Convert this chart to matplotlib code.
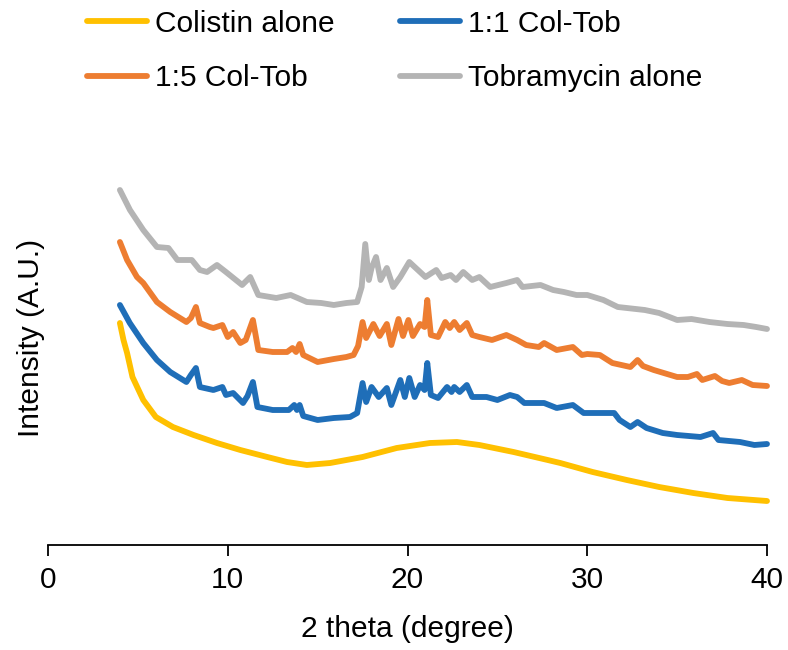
import matplotlib
matplotlib.use("Agg")
import matplotlib.pyplot as plt

plt.rcParams['font.family'] = ['Liberation Sans', 'DejaVu Sans']

# ---- data (2 theta in degrees, intensity in arbitrary units) ----
x_col = [4.0, 4.2, 4.4, 4.7, 5.3, 6.0, 6.95, 8.1, 9.4, 10.7, 12.2, 13.3, 14.4, 15.7,
         17.5, 19.4, 21.25, 22.75, 24.0, 25.9, 27.8, 28.5, 30.3, 32.2, 34.0, 35.9, 37.8, 40.0]
y_col = [222, 205, 192, 168, 145, 128, 118, 110, 102, 95, 88, 83, 80, 82,
         88, 97, 102, 103, 100, 93, 85, 82, 73, 65, 58, 52, 47, 44]

x_11 = [4.0, 4.55, 5.3, 6.06, 6.8, 7.7, 7.95, 8.23, 8.45, 9.2, 9.7, 9.9, 10.3, 10.85, 11.1,
        11.4, 11.65, 12.5, 13.4, 13.7, 13.85, 14.0, 14.2, 15.0, 15.9, 16.8, 17.2, 17.5,
        17.7, 18.0, 18.4, 18.85, 19.1, 19.6, 19.85, 20.1, 20.4, 20.7, 20.95, 21.1, 21.3,
        21.7, 22.2, 22.45, 22.6, 22.9, 23.3, 23.6, 24.4, 25.0, 25.7, 26.1, 26.5, 27.6,
        28.3, 29.2, 29.8, 30.6, 31.5, 31.8, 32.4, 32.8, 33.3, 34.2, 35.0, 36.3, 37.0,
        37.3, 38.5, 39.3, 40.0]
y_11 = [240, 222, 202, 185, 173, 163, 170, 177, 158, 155, 158, 150, 152, 142, 149,
        163, 138, 135, 135, 140, 135, 140, 129, 125, 127, 128, 132, 162,
        143, 158, 148, 157, 140, 165, 148, 167, 148, 160, 155, 182, 150,
        147, 158, 153, 158, 153, 160, 148, 148, 145, 150, 148, 142, 142,
        137, 140, 132, 132, 132, 125, 118, 123, 117, 112, 110, 108, 112,
        105, 103, 100, 101]

x_15 = [4.0, 4.4, 4.95, 5.3, 6.06, 6.8, 7.7, 7.95, 8.23, 8.45, 9.0, 9.2, 9.7, 10.0, 10.3,
        10.7, 11.0, 11.4, 11.7, 12.5, 13.3, 13.6, 13.8, 14.0, 14.2, 15.0, 15.9, 16.6,
        17.0, 17.25, 17.5, 17.7, 18.1, 18.45, 18.85, 19.1, 19.5, 19.75, 20.05, 20.3,
        20.7, 20.95, 21.1, 21.3, 21.7, 22.1, 22.35, 22.6, 22.9, 23.3, 23.6, 24.0, 24.7,
        25.5, 26.1, 26.6, 27.3, 27.6, 28.3, 29.2, 29.7, 30.0, 30.7, 31.4, 32.4, 32.8,
        33.1, 33.7, 35.0, 35.6, 36.1, 36.4, 37.1, 37.5, 37.9, 38.6, 39.2, 40.0]
y_15 = [303, 285, 268, 262, 243, 233, 223, 227, 238, 222, 218, 217, 220, 208, 213,
        202, 205, 225, 195, 193, 193, 197, 193, 201, 190, 183, 186, 188,
        190, 199, 223, 207, 221, 209, 221, 200, 226, 209, 225, 209,
        221, 218, 245, 210, 208, 223, 217, 223, 215, 222, 210, 208, 205,
        210, 205, 200, 198, 202, 195, 198, 190, 191, 190, 182, 178, 185,
        179, 175, 168, 168, 171, 165, 169, 164, 162, 165, 160, 159]

x_tob = [4.0, 4.56, 5.3, 6.06, 6.7, 7.2, 8.0, 8.45, 8.85, 9.4, 9.9, 10.8, 11.25, 11.7,
         12.7, 13.5, 14.4, 15.2, 15.9, 16.6, 17.2, 17.45, 17.65, 17.85, 18.0, 18.25, 18.5,
         18.85, 19.2, 19.6, 20.1, 20.7, 21.0, 21.6, 21.9, 22.4, 22.7, 23.1, 23.6, 24.0,
         24.6, 25.5, 26.1, 26.4, 27.4, 28.1, 28.7, 29.4, 30.0, 30.9, 31.7, 32.2, 33.2,
         34.0, 35.0, 35.8, 36.8, 37.8, 38.7, 39.4, 40.0]
y_tob = [355, 335, 315, 298, 297, 285, 285, 275, 273, 280, 273, 260, 268, 250,
         247, 250, 243, 242, 240, 242, 243, 258, 301, 265, 277, 288, 265,
         277, 258, 268, 283, 273, 268, 275, 267, 270, 265, 273, 265, 268,
         258, 262, 265, 258, 260, 255, 253, 250, 250, 245, 238, 237, 235,
         232, 225, 226, 223, 221, 220, 218, 216]

labels = ["Colistin alone", "1:1 Col-Tob", "1:5 Col-Tob", "Tobramycin alone"]
colors = ["#FFC000", "#1F6EB8", "#ED7D31", "#B4B4B4"]
xticks = [0, 10, 20, 30, 40]

W, H = 788, 650
fig = plt.figure(figsize=(W / 100, H / 100), dpi=100)
ax = fig.add_axes([48 / W, (H - 545) / H, (767 - 48) / W, (545 - 170) / H])

series = [(x_col, y_col), (x_11, y_11), (x_15, y_15), (x_tob, y_tob)]
handles = []
for (xs, ys), lab, c in zip(series, labels, colors):
    h, = ax.plot(xs, ys, color=c, lw=4.2, label=lab, solid_joinstyle='round',
                 solid_capstyle='round', clip_on=False)
    handles.append(h)

ax.set_xlim(0, 40)
ax.set_ylim(0, 375)
ax.set_xticks(xticks)
ax.set_xticklabels([str(t) for t in xticks])
ax.set_yticks([])
for s in ['left', 'top', 'right']:
    ax.spines[s].set_visible(False)
ax.spines['bottom'].set_linewidth(1.3)
ax.tick_params(axis='x', direction='out', length=8, width=1.3, labelsize=21.5, pad=7)
ax.set_xlabel("2 theta (degree)", fontsize=21.5, labelpad=15)
ax.set_ylabel("Intensity (A.U.)", fontsize=21.5, labelpad=2)
ax.yaxis.label.set_y(0.552)

order = [0, 2, 1, 3]
fig.legend([handles[i] for i in order], [labels[i] for i in order],
           loc='upper left', bbox_to_anchor=(72 / W, 1 + 5 / H), ncol=2,
           frameon=False, fontsize=21.5, borderpad=0, handlelength=2.0,
           handletextpad=0.27, columnspacing=2.2, labelspacing=0.88)

fig.savefig("out.png", dpi=100)
